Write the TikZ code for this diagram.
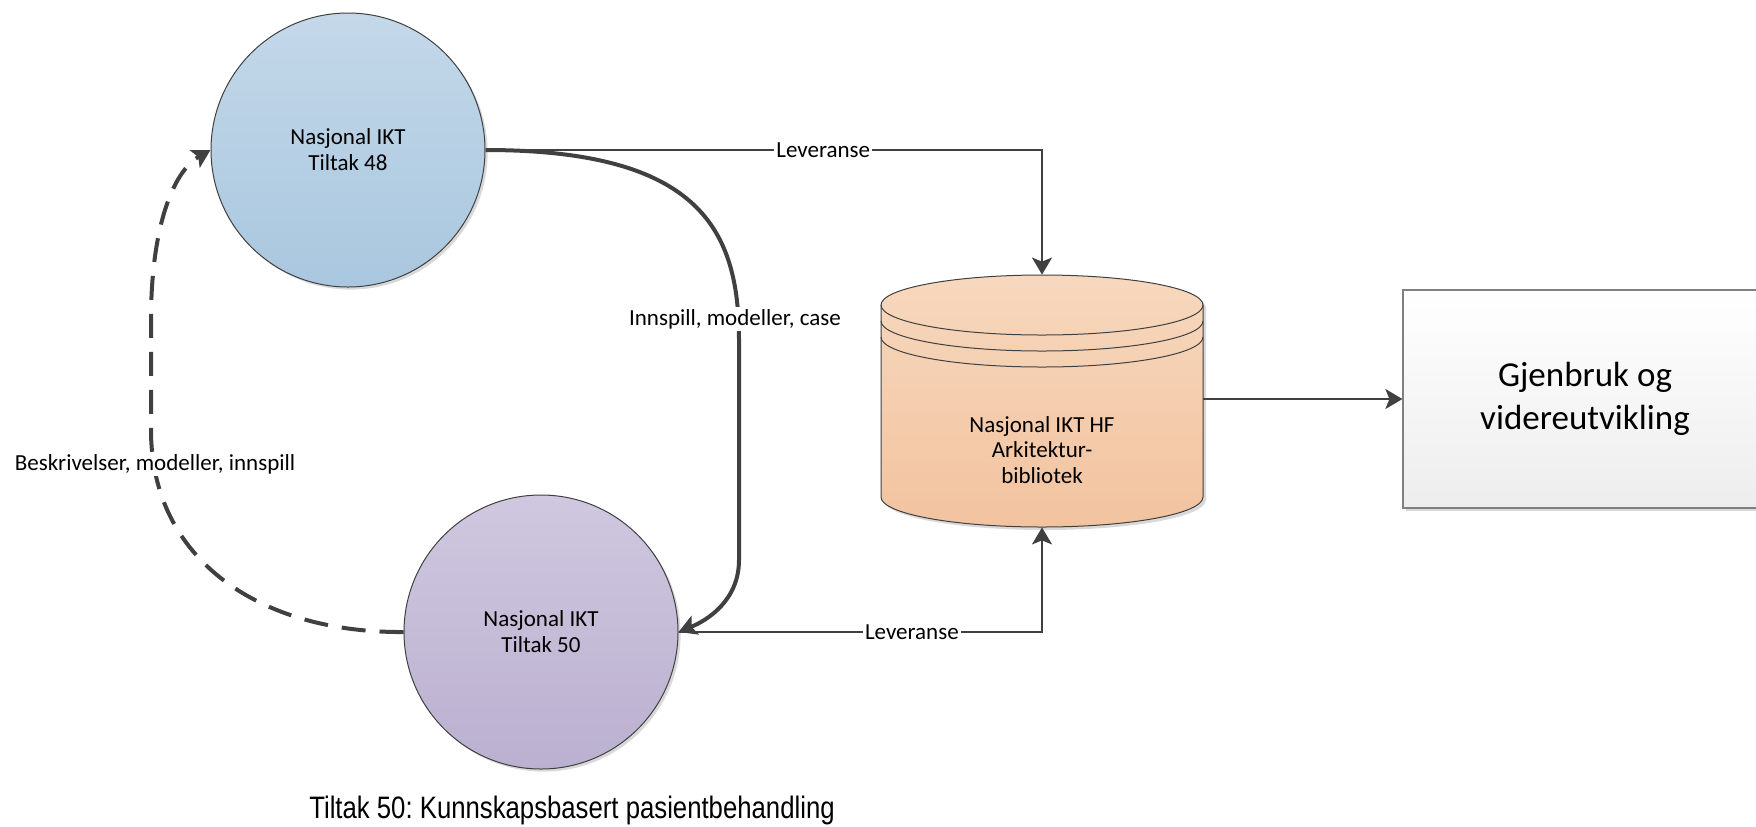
\documentclass[tikz,border=0pt]{standalone}
\usepackage{fontspec}
\setmainfont{Carlito}
\newfontfamily\capfont[FakeStretch=0.83]{Liberation Sans}
\usetikzlibrary{arrows.meta,shadows}
\definecolor{lc}{HTML}{404040}
\definecolor{bt}{HTML}{C4D8E9}
\definecolor{bb}{HTML}{A9C7DF}
\definecolor{pt}{HTML}{CFC8DF}
\definecolor{pb}{HTML}{BBB0D0}
\definecolor{ot}{HTML}{F7D8BE}
\definecolor{ob}{HTML}{F2C39F}
\tikzset{
  shd/.style={drop shadow={shadow xshift=1.3pt,shadow yshift=-1.3pt,fill=black,opacity=0.15}},
  circ/.style={circle,draw=lc,line width=0.5pt,minimum size=137pt,inner sep=0pt,align=center,
    font=\fontsize{11.5}{13}\selectfont,shd},
  thinarrow/.style={draw=lc,line width=1pt,-{Stealth[length=8.5pt,width=10pt,inset=2pt]}},
  thickarrow/.style={draw=lc,line width=2pt,-{Stealth[length=9pt,width=10pt,inset=2pt]}},
  dasharrow/.style={draw=lc,line width=2pt,dash pattern=on 12pt off 7pt,-{Stealth[length=9pt,width=10pt,inset=2pt]}},
  lbl/.style={fill=white,inner sep=1pt,font=\fontsize{11.5}{13}\selectfont,text=black}
}
\begin{document}
\frenchspacing
\begin{tikzpicture}[x=0.5pt,y=-0.5pt]
\useasboundingbox (0,0) rectangle (1756,826);
\clip (0,0) rectangle (1756,826);
% circles
\node[circ,top color=bt,bottom color=bb] (c48) at (348,150) {Nasjonal IKT\\Tiltak 48};
\node[circ,top color=pt,bottom color=pb] (c50) at (541,632) {Nasjonal IKT\\Tiltak 50};
% cylinder
\fill[black,opacity=0.15] (884,308) -- (884,500) arc[start angle=180,end angle=360,x radius=80.5pt,y radius=15pt]
  -- (1206,308) arc[start angle=0,end angle=180,x radius=80.5pt,y radius=15pt] -- cycle;
\path[draw=lc,line width=0.5pt,top color=ot,bottom color=ob] (881,305) -- (881,497)
  arc[start angle=180,end angle=360,x radius=80.5pt,y radius=15pt]
  -- (1203,305) arc[start angle=0,end angle=180,x radius=80.5pt,y radius=15pt] -- cycle;
\draw[lc,line width=0.5pt] (881,305) arc[start angle=180,end angle=360,x radius=80.5pt,y radius=15pt];
\draw[lc,line width=0.5pt] (881,321) arc[start angle=180,end angle=360,x radius=80.5pt,y radius=15pt];
\draw[lc,line width=0.5pt] (881,337) arc[start angle=180,end angle=360,x radius=80.5pt,y radius=15pt];
\node[minimum width=161pt,minimum height=126pt,inner sep=0pt] (cyl) at (1042,401) {};
\node[align=center,font=\fontsize{11.5}{12.8}\selectfont] (cyltext) at (1042,450) {Nasjonal IKT HF\\Arkitektur-\\bibliotek};
% box
\node[rectangle,draw=black!50,line width=0.6pt,top color=white,bottom color=black!7,shd,
  minimum width=182pt,minimum height=109pt,align=center,font=\fontsize{17.5}{21.5}\selectfont]
  (box) at (1585,399) {Gjenbruk og\\videreutvikling};
% connectors
\draw[thinarrow] (c48.east) -| node[lbl,pos=0.3035] (lev1) {Leveranse} (cyl.north);
\draw[thinarrow] (c50.east) -| node[lbl,pos=0.321] (lev2) {Leveranse} (cyl.south);
\draw[thinarrow] (box.west -| cyl.east) -- (box.west);
\draw[thickarrow] (c48.east) .. controls (700,150) and (739,230) .. (739,340) -- (739,560)
  .. controls (739,600) and (708,620) .. (c50.east);
\node[lbl] (imc) at (735,319) {Innspill, modeller, case};
\draw[dasharrow] (c50.west) .. controls (260,633) and (151,560) .. (151,430) -- (151,320)
  .. controls (151,230) and (172,172) .. (c48.west);
\node[lbl] (bmi) at (155,464) {Beskrivelser, modeller, innspill};
% caption
\node[font=\capfont\fontsize{15.5}{18}\selectfont] (cap) at (572,810) {Tiltak 50: Kunnskapsbasert pasientbehandling};
\end{tikzpicture}
\end{document}
